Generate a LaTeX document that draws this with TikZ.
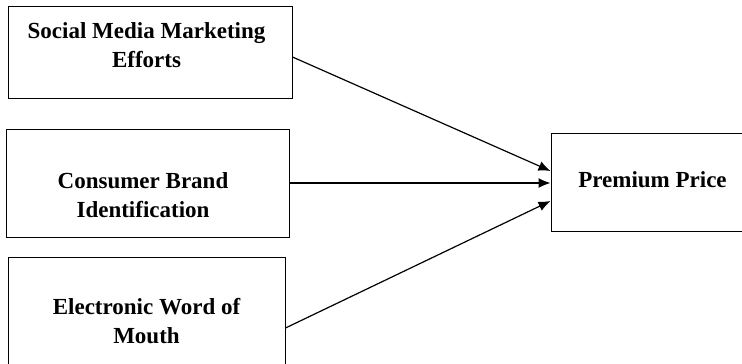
\documentclass[tikz,border=0pt]{standalone}
\usepackage{fontspec}
\setmainfont{Liberation Serif}
\usepackage{tikz}
\usetikzlibrary{positioning,arrows,arrows.meta}
\tikzstyle{box} = [rectangle, draw=black, line width=1pt, inner sep=0pt]
\tikzstyle{lbl} = [align=center, font=\bfseries\fontsize{23}{29}\selectfont, inner sep=0pt]
\tikzstyle{arrow} = [line width=1.2pt,-{Latex[length=12pt,width=10pt]}]

\begin{document}
\begin{tikzpicture}[x=1pt,y=-1pt]
	\useasboundingbox (0,0) rectangle (742,364);
	\node (sme) [box, minimum width=284pt, minimum height=92pt] at (150,52) {};
	\node (cbi) [box, minimum width=283pt, minimum height=108pt] at (147.5,183) {};
	\node (ewom) [box, minimum width=277pt, minimum height=142pt] at (146.5,328) {};
	\node (pp) [box, minimum width=203pt, minimum height=98pt] at (652.5,182) {};

	\node (smet) [lbl] at (146.5,45) {Social Media Marketing\\Efforts};
	\node (cbit) [lbl] at (143,195) {Consumer Brand\\Identification};
	\node (ewomt) [lbl] at (146.5,321) {Electronic Word of\\Mouth};
	\node (ppt) [lbl] at (652.5,180) {Premium Price};

	\draw [arrow] ([yshift=-5pt]sme.east) -- ([yshift=11pt]pp.west);
	\draw [arrow] (cbi.east) -- ([yshift=-1pt]pp.west);
	\draw [arrow] (ewom.east) -- ([yshift=-19pt]pp.west);

\end{tikzpicture}
\end{document}
